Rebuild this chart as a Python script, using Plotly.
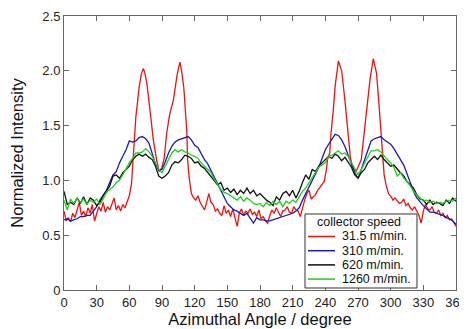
import plotly.graph_objects as go

# ---------------- data ----------------
angle_deg = [0, 3, 6, 9, 12, 15, 18, 21, 24, 27, 30, 33, 36, 39, 42, 45, 48, 51, 54, 57,
             60, 63, 66, 69, 72, 75, 78, 81, 84, 87, 90, 93, 96, 99, 102, 105, 108, 111, 114, 117,
             120, 123, 126, 129, 132, 135, 138, 141, 144, 147, 150, 153, 156, 159, 162, 165, 168, 171, 174, 177,
             180, 183, 186, 189, 192, 195, 198, 201, 204, 207, 210, 213, 216, 219, 222, 225, 228, 231, 234, 237,
             240, 243, 246, 249, 252, 255, 258, 261, 264, 267, 270, 273, 276, 279, 282, 285, 288, 291, 294, 297,
             300, 303, 306, 309, 312, 315, 318, 321, 324, 327, 330, 333, 336, 339, 342, 345, 348, 351, 354, 357,
             360]

speed_310 = [0.64, 0.65, 0.63, 0.64, 0.65, 0.67, 0.67, 0.68, 0.68, 0.72, 0.76, 0.82, 0.87, 0.91, 0.98, 1.05, 1.08, 1.16, 1.22, 1.28,
             1.36, 1.35, 1.36, 1.39, 1.40, 1.38, 1.34, 1.25, 1.15, 1.09, 1.10, 1.17, 1.25, 1.31, 1.35, 1.37, 1.38, 1.39, 1.40, 1.37,
             1.32, 1.30, 1.24, 1.19, 1.15, 1.09, 1.03, 0.97, 0.90, 0.84, 0.79, 0.76, 0.73, 0.72, 0.70, 0.68, 0.70, 0.66, 0.61, 0.66,
             0.64, 0.64, 0.63, 0.63, 0.64, 0.65, 0.66, 0.67, 0.68, 0.69, 0.70, 0.72, 0.75, 0.82, 0.88, 0.94, 0.99, 1.05, 1.12, 1.20,
             1.28, 1.33, 1.38, 1.42, 1.41, 1.37, 1.31, 1.22, 1.15, 1.07, 1.02, 1.10, 1.19, 1.29, 1.36, 1.38, 1.39, 1.40, 1.37, 1.35,
             1.33, 1.29, 1.24, 1.20, 1.14, 1.06, 0.98, 0.90, 0.84, 0.80, 0.77, 0.74, 0.71, 0.71, 0.70, 0.69, 0.68, 0.66, 0.65, 0.63,
             0.60]

speed_620 = [0.90, 0.78, 0.80, 0.78, 0.84, 0.79, 0.85, 0.78, 0.84, 0.82, 0.77, 0.80, 0.86, 0.91, 0.95, 1.04, 1.05, 1.02, 1.07, 1.10,
             1.13, 1.19, 1.22, 1.24, 1.22, 1.24, 1.21, 1.19, 1.13, 1.04, 1.02, 1.04, 1.07, 1.14, 1.17, 1.16, 1.19, 1.23, 1.22, 1.20,
             1.16, 1.17, 1.13, 1.11, 1.07, 1.04, 1.00, 0.96, 0.98, 0.91, 0.93, 0.89, 0.92, 0.87, 0.91, 0.88, 0.93, 0.88, 0.91, 0.86,
             0.88, 0.85, 0.82, 0.80, 0.77, 0.85, 0.82, 0.88, 0.90, 0.86, 0.91, 0.84, 0.90, 0.98, 1.05, 1.01, 1.10, 1.08, 1.13, 1.16,
             1.19, 1.22, 1.20, 1.24, 1.22, 1.18, 1.21, 1.16, 1.12, 1.05, 1.02, 1.07, 1.10, 1.16, 1.19, 1.22, 1.19, 1.23, 1.19, 1.16,
             1.13, 1.14, 1.10, 1.07, 1.04, 0.99, 0.96, 0.93, 0.87, 0.83, 0.82, 0.78, 0.82, 0.78, 0.80, 0.79, 0.77, 0.82, 0.79, 0.84,
             0.81]

speed_1260 = [0.82, 0.73, 0.83, 0.79, 0.84, 0.80, 0.83, 0.78, 0.82, 0.80, 0.83, 0.78, 0.83, 0.89, 0.92, 0.94, 0.98, 1.00, 1.05, 1.11,
              1.16, 1.20, 1.25, 1.25, 1.26, 1.29, 1.26, 1.22, 1.16, 1.10, 1.07, 1.13, 1.19, 1.25, 1.28, 1.26, 1.28, 1.26, 1.25, 1.23,
              1.22, 1.20, 1.16, 1.13, 1.10, 1.07, 1.01, 0.96, 0.92, 0.89, 0.88, 0.86, 0.84, 0.82, 0.85, 0.81, 0.84, 0.82, 0.79, 0.78,
              0.79, 0.76, 0.80, 0.77, 0.81, 0.78, 0.81, 0.76, 0.81, 0.79, 0.82, 0.80, 0.85, 0.90, 0.93, 0.98, 1.02, 1.08, 1.12, 1.14,
              1.16, 1.22, 1.23, 1.25, 1.27, 1.24, 1.25, 1.22, 1.16, 1.10, 1.05, 1.10, 1.16, 1.22, 1.27, 1.27, 1.28, 1.26, 1.22, 1.19,
              1.16, 1.12, 1.04, 1.07, 1.02, 0.99, 0.95, 0.90, 0.87, 0.84, 0.81, 0.82, 0.80, 0.81, 0.79, 0.80, 0.79, 0.81, 0.82, 0.81,
              0.84]

angle_red = [0, 2, 4, 6, 8, 10, 12, 14, 16, 18, 20, 22, 24, 26, 28, 30, 32, 34, 36, 38,
             40, 42, 44, 46, 48, 50, 52, 54, 56, 58, 60, 62, 63.5, 64.6, 66, 67.7, 69, 71, 72.8, 74,
             76, 79, 82, 85, 87.5, 90, 92, 94.3, 97, 100.4, 102, 104, 106.5, 108, 110, 111, 112.7, 113.5, 115, 117,
             119, 121, 123, 125, 127, 129, 131, 133, 135, 137, 139, 141, 143, 145, 147, 149, 151, 153, 155, 157,
             159, 161, 163, 165, 167, 169, 171, 173, 175, 177, 179, 181, 183, 185, 187, 189, 191, 193, 195, 197,
             199, 201, 203, 205, 207, 209, 211, 213, 215, 217, 219, 221, 223, 225, 227, 229, 231, 233, 235, 237,
             239, 241, 242, 244, 245.2, 247.3, 249, 252, 255, 258, 261, 263, 265, 268, 270, 273, 275, 278, 279.6, 281,
             284, 287, 289, 291, 292.3, 294, 296, 298, 300.6, 302, 304, 306, 308, 310, 312, 314, 316, 318, 320, 322,
             324, 326, 328, 330, 332, 334, 336, 338, 340, 342, 344, 346, 348, 350, 352, 354, 356, 358, 360]

speed_31_5 = [0.72, 0.63, 0.66, 0.62, 0.70, 0.66, 0.73, 0.80, 0.68, 0.72, 0.67, 0.75, 0.70, 0.78, 0.63, 0.70, 0.76, 0.72, 0.80, 0.71,
              0.76, 0.73, 0.79, 0.84, 0.73, 0.77, 0.72, 0.78, 0.75, 0.80, 0.86, 0.97, 1.20, 1.43, 1.58, 1.73, 1.85, 1.97, 2.02, 1.99,
              1.89, 1.64, 1.37, 1.19, 1.08, 1.12, 1.20, 1.43, 1.60, 1.73, 1.85, 1.97, 2.08, 2.00, 1.85, 1.73, 1.46, 1.19, 1.02, 0.88,
              0.84, 0.82, 0.86, 0.80, 0.76, 0.73, 0.80, 0.88, 0.80, 0.78, 0.72, 0.74, 0.70, 0.68, 0.77, 0.70, 0.73, 0.67, 0.74, 0.66,
              0.58, 0.70, 0.74, 0.68, 0.72, 0.70, 0.74, 0.69, 0.71, 0.67, 0.73, 0.65, 0.67, 0.63, 0.61, 0.68, 0.73, 0.70, 0.75, 0.71,
              0.67, 0.72, 0.73, 0.76, 0.71, 0.70, 0.76, 0.73, 0.72, 0.67, 0.76, 0.82, 0.88, 0.91, 0.83, 0.85, 0.87, 0.91, 0.94, 0.96,
              0.99, 1.10, 1.19, 1.25, 1.43, 1.64, 1.86, 2.09, 2.00, 1.73, 1.43, 1.21, 1.12, 1.08, 1.12, 1.19, 1.37, 1.64, 1.83, 1.92,
              2.11, 1.98, 1.73, 1.43, 1.22, 1.05, 0.95, 0.88, 0.85, 0.82, 0.84, 0.81, 0.79, 0.80, 0.83, 0.77, 0.79, 0.75, 0.73, 0.76,
              0.72, 0.68, 0.61, 0.72, 0.78, 0.74, 0.73, 0.76, 0.71, 0.70, 0.73, 0.68, 0.70, 0.66, 0.68, 0.64, 0.65, 0.61, 0.58]

series_names = ["31.5 m/min.", "310 m/min.", "620 m/min.", "1260 m/min."]
series_colors = ["#ee1111", "#1a1ab4", "#111111", "#22cc22"]

x_ticks = [0, 30, 60, 90, 120, 150, 180, 210, 240, 270, 300, 330, 360]
y_ticks = [0, 0.5, 1.0, 1.5, 2.0, 2.5]
y_tick_labels = ["0", "0.5", "1.0", "1.5", "2.0", "2.5"]

legend_title = "collector speed"
x_title = "Azimuthal Angle / degree"
y_title = "Normalized Intensity"

# ---------------- figure ----------------
FONT = "Liberation Sans, Arial, sans-serif"
fig = go.Figure()

xs = [angle_red, angle_deg, angle_deg, angle_deg]
ys = [speed_31_5, speed_310, speed_620, speed_1260]
for x, y, name, col in zip(xs, ys, series_names, series_colors):
    fig.add_trace(go.Scatter(x=x, y=y, mode="lines", name=name,
                             line=dict(color=col, width=1.3), showlegend=False))

axis_common = dict(
    showline=True, linecolor="#666666", linewidth=1, mirror="ticks",
    ticks="inside", ticklen=5, tickcolor="#666666", tickwidth=1,
    showgrid=False, zeroline=False,
    tickfont=dict(family=FONT, size=13, color="#222222"),
)

fig.update_xaxes(range=[0, 360], tickvals=x_ticks, **axis_common,
                 title=dict(text=x_title, font=dict(family=FONT, size=16.5, color="#111111"), standoff=1))
fig.update_yaxes(range=[0, 2.5], tickvals=y_ticks, ticktext=y_tick_labels, **axis_common,
                 title=dict(text=y_title, font=dict(family=FONT, size=16.5, color="#111111"), standoff=14))

# legend drawn in paper coordinates (box, sample lines, labels)
shapes = [dict(type="rect", xref="paper", yref="paper", x0=0.6148, x1=0.9005, y0=0.0073, y1=0.2774,
               line=dict(color="#333333", width=1), fillcolor="white", layer="above")]
row_y = [0.1953, 0.1434, 0.0916, 0.0398]
annotations = [dict(text=legend_title, xref="paper", yref="paper", x=0.7526, y=0.2482,
                    xanchor="center", yanchor="middle", showarrow=False,
                    font=dict(family=FONT, size=12.5, color="#111111"))]
for ry, name, col in zip(row_y, series_names, series_colors):
    shapes.append(dict(type="line", xref="paper", yref="paper", x0=0.6224, x1=0.6913, y0=ry, y1=ry,
                       line=dict(color=col, width=1.5), layer="above"))
    annotations.append(dict(text=name, xref="paper", yref="paper", x=0.7066, y=ry,
                            xanchor="left", yanchor="middle", showarrow=False, borderpad=0,
                            font=dict(family=FONT, size=12.5, color="#111111")))

# the page body has an 8 px margin, so the figure is sized to fit inside the window
fig.update_layout(
    width=459, height=321,
    margin=dict(l=56, r=11, t=8, b=39, autoexpand=False),
    plot_bgcolor="white", paper_bgcolor="white",
    shapes=shapes, annotations=annotations,
    showlegend=False,
)

fig.write_html("out.html")
